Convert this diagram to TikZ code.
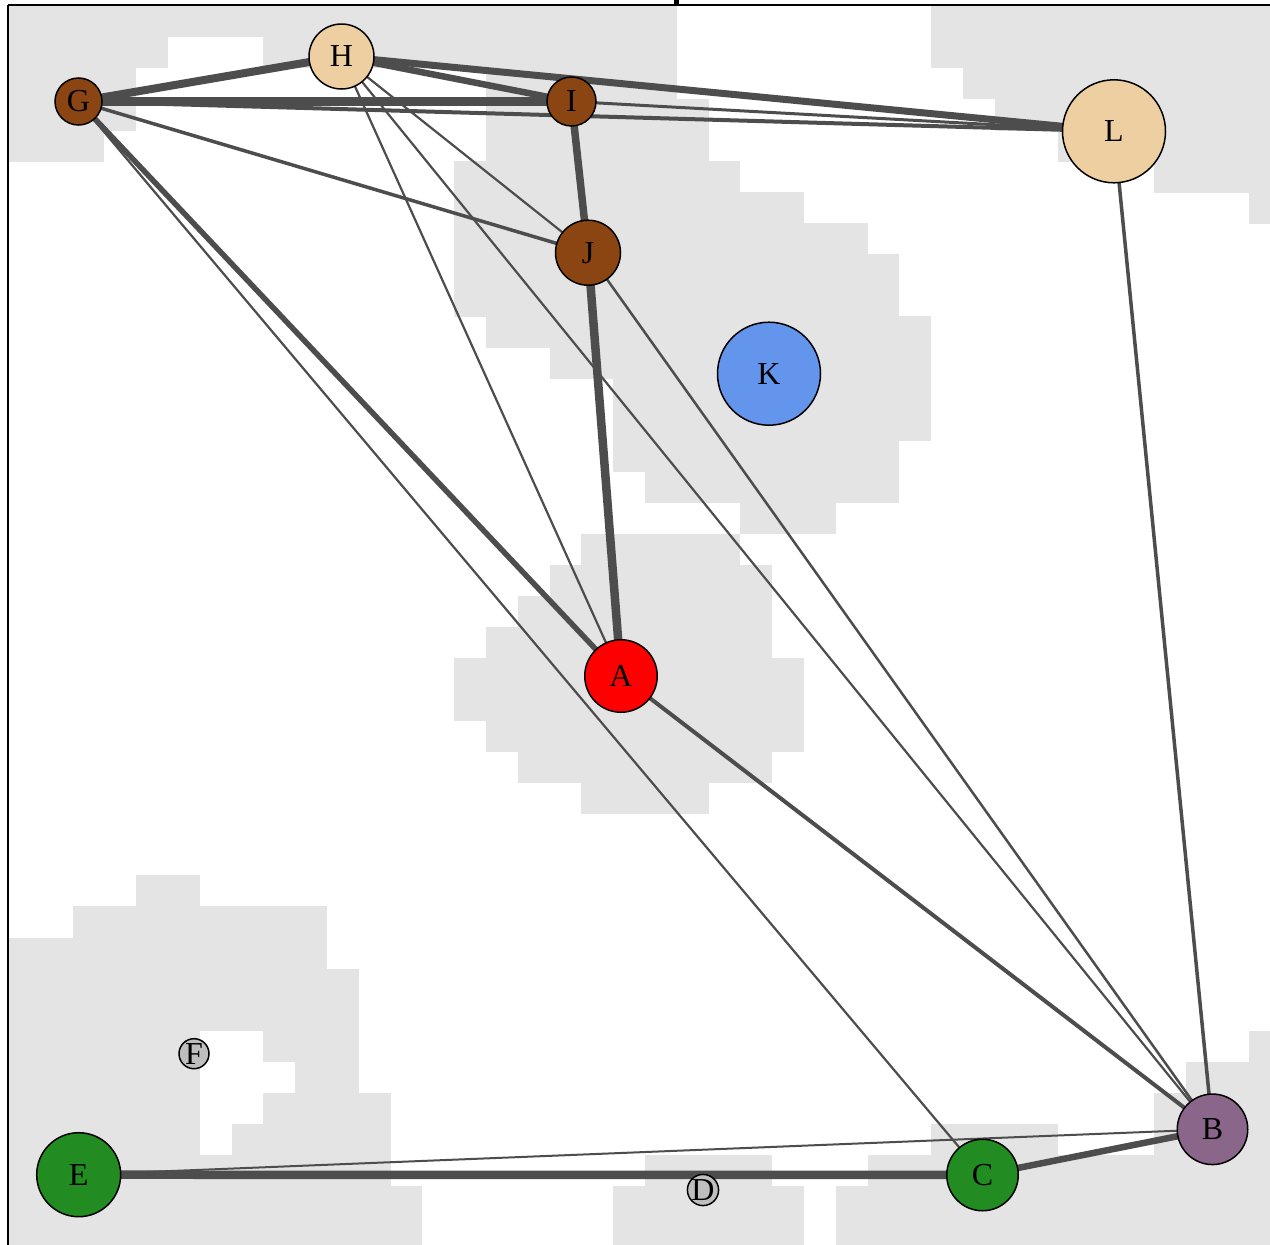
\documentclass[tikz,border=0pt]{standalone}
\usepackage{fontspec}
\setmainfont{Liberation Serif}
\pgfdeclarelayer{bg}
\pgfdeclarelayer{edges}
\pgfsetlayers{bg,edges,main}
\definecolor{bggrey}{RGB}{228,228,228}
\definecolor{edgec}{RGB}{77,77,77}
\definecolor{brownn}{RGB}{139,69,19}
\definecolor{wheatc}{RGB}{238,207,161}
\definecolor{bluek}{RGB}{100,149,237}
\definecolor{purpb}{RGB}{139,102,139}
\definecolor{greenc}{RGB}{34,139,34}
\definecolor{greyd}{RGB}{190,190,190}
\begin{document}
\begin{tikzpicture}[x=1pt,y=-1pt,
  vertex/.style={circle,draw=black,line width=1.5pt,inner sep=0pt,outer sep=0pt,font=\fontsize{32}{32}\selectfont},
  edge/.style={draw=edgec}]
\useasboundingbox (0,0) rectangle (1270,1245);
\begin{pgfonlayer}{bg}
\begin{scope}
\clip (0,0) rectangle (1270,1245);
\fill[white] (0,0) rectangle (1270,1245);
\foreach \r/\a/\b in {
 0/0/20, 0/29/39,
 1/0/4, 1/8/20, 1/29/39,
 2/0/3, 2/15/20, 2/30/39,
 3/0/3, 3/15/21, 3/31/39,
 4/0/2, 4/15/21, 4/33/39,
 5/14/22, 5/36/39,
 6/14/24, 6/39/39,
 7/14/26, 8/14/27, 9/14/27, 10/15/28, 11/17/28, 12/19/28, 13/19/28,
 14/19/27, 15/20/27, 16/23/25,
 17/18/22, 18/17/23, 19/16/23, 20/15/23, 21/14/24, 22/14/24, 23/15/24,
 24/16/23, 25/18/21,
 28/4/5, 29/2/9, 30/0/9, 31/0/10, 32/0/10,
 33/0/5, 33/8/10, 33/39/39,
 34/0/5, 34/9/10, 34/37/39,
 35/0/5, 35/8/11, 35/36/39,
 36/0/5, 36/7/11, 36/29/32, 36/36/39,
 37/0/11, 37/20/23, 37/27/39,
 38/0/12, 38/19/24, 38/26/39,
 39/0/12, 39/19/24, 39/26/39}
 { \fill[bggrey] ({9+31.8*\a},{6+31.06*\r-0.3}) rectangle ({9+31.8*(\b+1)},{6+31.06*(\r+1)+0.3}); }
\draw[line width=2pt] (8,5) -- (1300,5);
\draw[line width=2pt] (8,5) -- (8,1300);
\fill[black] (674,0) rectangle (679,5);
\end{scope}
\end{pgfonlayer}

\node[vertex, fill=brownn, minimum size=47pt] (G) at (78.5,101.5) {G};
\node[vertex, fill=wheatc, minimum size=65pt] (H) at (341.5,56.5) {H};
\node[vertex, fill=brownn, minimum size=49pt] (I) at (571.5,101.5) {I};
\node[vertex, fill=wheatc, minimum size=103pt] (L) at (1114,131.3) {L};
\node[vertex, fill=brownn, minimum size=65pt] (J) at (588,252.7) {J};
\node[vertex, fill=bluek, minimum size=103pt] (K) at (769,373.7) {K};
\node[vertex, fill=red, minimum size=72.5pt] (A) at (621,676) {A};
\node[vertex, fill=greyd, minimum size=30pt] (F) at (194,1053.7) {F};
\node[vertex, fill=greenc, minimum size=84pt] (E) at (78.7,1174.7) {E};
\node[vertex, fill=greyd, minimum size=30pt] (D) at (703,1190) {D};
\node[vertex, fill=greenc, minimum size=71.5pt] (C) at (982.5,1175) {C};
\node[vertex, fill=purpb, minimum size=70.5pt] (B) at (1212.5,1129.3) {B};

\begin{pgfonlayer}{edges}
\draw[edge, line width=8pt] (G) -- (H);
\draw[edge, line width=9pt] (G) -- (I);
\draw[edge, line width=4pt] (G) -- (L);
\draw[edge, line width=3.5pt] (G) -- (J);
\draw[edge, line width=5.5pt] (G) -- (A);
\draw[edge, line width=2.2pt] (G) -- (C);
\draw[edge, line width=6.5pt] (H) -- (I);
\draw[edge, line width=7pt] (H) -- (L);
\draw[edge, line width=2.2pt] (H) -- (J);
\draw[edge, line width=2.2pt] (H) -- (A);
\draw[edge, line width=2.2pt] (H) -- (B);
\draw[edge, line width=3pt] (I) -- (L);
\draw[edge, line width=7.5pt] (I) -- (J);
\draw[edge, line width=8.5pt] (J) -- (A);
\draw[edge, line width=2.5pt] (J) -- (B);
\draw[edge, line width=3.5pt] (L) -- (B);
\draw[edge, line width=4pt] (A) -- (B);
\draw[edge, line width=8.5pt] (E) -- (C);
\draw[edge, line width=2pt] (E) -- (B);
\draw[edge, line width=6.5pt] (C) -- (B);
\end{pgfonlayer}
\end{tikzpicture}
\end{document}
